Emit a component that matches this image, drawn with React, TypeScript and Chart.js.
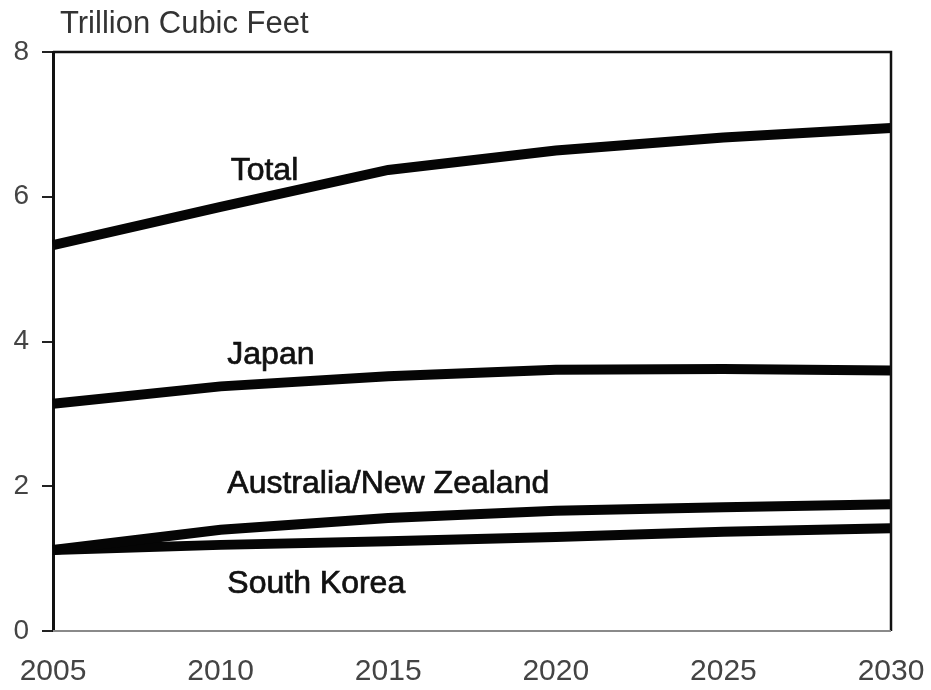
import React, { useEffect, useRef } from "react";
import { Chart, registerables } from "chart.js";

Chart.register(...registerables);

const years = ["2005", "2010", "2015", "2020", "2025", "2030"];
const total = [5.33, 5.86, 6.37, 6.64, 6.82, 6.95];
const japan = [3.14, 3.38, 3.52, 3.61, 3.62, 3.6];
const ausNz = [1.12, 1.4, 1.56, 1.66, 1.71, 1.75];
const southKorea = [1.12, 1.19, 1.24, 1.3, 1.37, 1.42];
const yTicks = [0, 2, 4, 6, 8];

const unitTitle = "Trillion Cubic Feet";
// label text, x category index (fractional), y value at text baseline
const seriesLabels = [
  { text: "Total", x: 1.06, y: 6.23 },
  { text: "Japan", x: 1.04, y: 3.69 },
  { text: "Australia/New Zealand", x: 1.04, y: 1.9 },
  { text: "South Korea", x: 1.04, y: 0.52 },
];

const FONT = "'Liberation Sans', Arial, Helvetica, sans-serif";

export default function App() {
  const ref = useRef<HTMLCanvasElement | null>(null);

  useEffect(() => {
    document.body.style.margin = "0";
    const canvas = ref.current!;
    const decor = {
      id: "decor",
      afterDatasetsDraw(chart: any) {
        const { ctx, chartArea, scales } = chart;
        const xs = scales.x;
        const ys = scales.y;
        ctx.save();
        // frame
        ctx.strokeStyle = "#111";
        ctx.lineWidth = 2.5;
        ctx.beginPath();
        ctx.moveTo(chartArea.left, chartArea.top);
        ctx.lineTo(chartArea.right, chartArea.top);
        ctx.lineTo(chartArea.right, chartArea.bottom);
        ctx.stroke();
        ctx.strokeStyle = "#8a8a8a";
        ctx.lineWidth = 2;
        ctx.beginPath();
        ctx.moveTo(chartArea.left, chartArea.bottom);
        ctx.lineTo(chartArea.right, chartArea.bottom);
        ctx.stroke();
        // series labels
        ctx.fillStyle = "#111";
        ctx.strokeStyle = "#111";
        ctx.lineWidth = 0.7;
        ctx.font = `32px ${FONT}`;
        ctx.textAlign = "left";
        ctx.textBaseline = "alphabetic";
        for (const l of seriesLabels) {
          const px =
            xs.getPixelForValue(Math.floor(l.x)) +
            (l.x - Math.floor(l.x)) * (xs.getPixelForValue(1) - xs.getPixelForValue(0));
          const py = ys.getPixelForValue(l.y);
          ctx.fillText(l.text, px, py);
          ctx.strokeText(l.text, px, py);
        }
        // unit title
        ctx.fillStyle = "#333";
        ctx.font = `31px ${FONT}`;
        ctx.fillText(unitTitle, 60, 33);
        ctx.restore();
      },
    };

    const mk = (data: number[]) => ({
      data,
      borderColor: "#050505",
      borderWidth: 10,
      pointRadius: 0,
      tension: 0,
      fill: false,
      borderCapStyle: "butt" as const,
    });

    const chart = new Chart(canvas, {
      type: "line",
      data: {
        labels: years,
        datasets: [mk(total), mk(japan), mk(ausNz), mk(southKorea)],
      },
      options: {
        responsive: false,
        animation: false,
        layout: { padding: { top: 52, right: 40, left: 0, bottom: 0 } },
        plugins: { legend: { display: false }, tooltip: { enabled: false } },
        scales: {
          x: {
            offset: false,
            grid: { display: false, drawTicks: false },
            border: { display: false },
            ticks: {
              color: "#444",
              font: { family: FONT, size: 30 },
              padding: 23,
              maxRotation: 0,
              autoSkip: false,
            },
            afterFit(scale: any) {
              scale.height = 59;
              scale.paddingLeft = 0;
              scale.paddingRight = 0;
            },
          },
          y: {
            min: 0,
            max: 8,
            afterBuildTicks(scale: any) {
              scale.ticks = yTicks.map((v) => ({ value: v }));
            },
            grid: {
              drawOnChartArea: false,
              drawTicks: true,
              tickLength: 11,
              color: "#222",
              lineWidth: 2,
            },
            border: { display: true, color: "#111", width: 3 },
            ticks: {
              color: "#444",
              font: { family: FONT, size: 28 },
              padding: 13,
            },
            afterFit(scale: any) {
              scale.width = 53;
              scale.paddingTop = 0;
              scale.paddingBottom = 0;
            },
          },
        },
      },
      plugins: [decor],
    });
    return () => chart.destroy();
  }, []);

  return (
    <div style={{ width: 931, height: 690, background: "#fff" }}>
      <canvas ref={ref} width={931} height={690} style={{ display: "block" }} />
    </div>
  );
}
